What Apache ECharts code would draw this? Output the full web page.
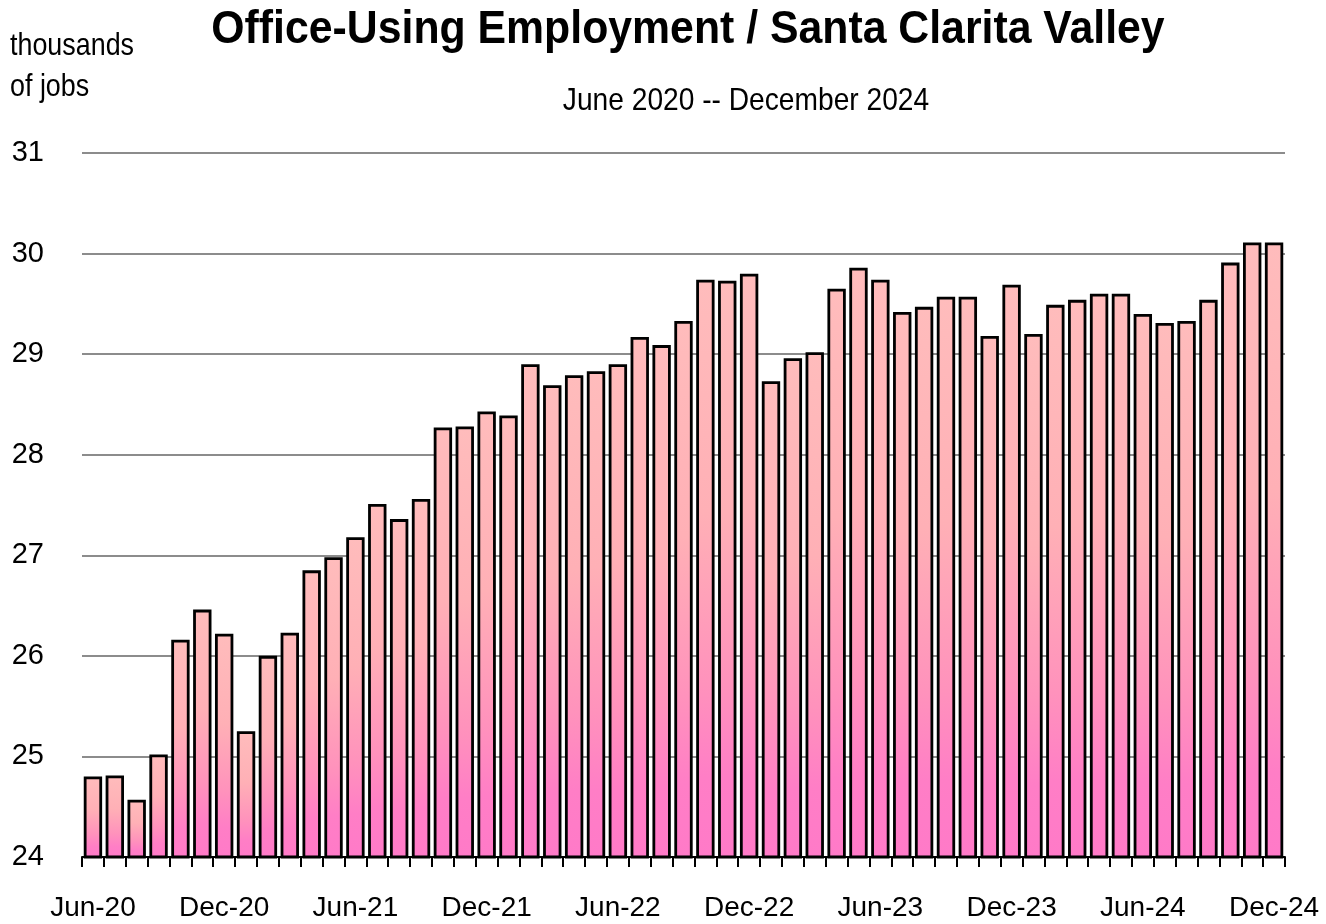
<!DOCTYPE html>
<html>
<head>
<meta charset="utf-8">
<script src="https://cdn.jsdelivr.net/npm/echarts@6/dist/echarts.min.js"></script>
<style>
html,body{margin:0;padding:0;background:#fff;}
#chart{width:1326px;height:924px;}
</style>
</head>
<body>
<div id="chart"></div>
<script>
const categories = [
  'Jun-20','Jul-20','Aug-20','Sep-20','Oct-20','Nov-20','Dec-20',
  'Jan-21','Feb-21','Mar-21','Apr-21','May-21','Jun-21','Jul-21','Aug-21','Sep-21','Oct-21','Nov-21','Dec-21',
  'Jan-22','Feb-22','Mar-22','Apr-22','May-22','Jun-22','Jul-22','Aug-22','Sep-22','Oct-22','Nov-22','Dec-22',
  'Jan-23','Feb-23','Mar-23','Apr-23','May-23','Jun-23','Jul-23','Aug-23','Sep-23','Oct-23','Nov-23','Dec-23',
  'Jan-24','Feb-24','Mar-24','Apr-24','May-24','Jun-24','Jul-24','Aug-24','Sep-24','Oct-24','Nov-24','Dec-24'
];
const jobs = [
  24.80, 24.81, 24.57, 25.02, 26.16, 26.46, 26.22,
  25.25, 26.00, 26.23, 26.85, 26.98, 27.18, 27.51, 27.36, 27.56, 28.27, 28.28, 28.43,
  28.39, 28.90, 28.69, 28.79, 28.83, 28.90, 29.17, 29.09, 29.33, 29.74, 29.73, 29.80,
  28.73, 28.96, 29.02, 29.65, 29.86, 29.74, 29.42, 29.47, 29.57, 29.57, 29.18, 29.69,
  29.20, 29.49, 29.54, 29.60, 29.60, 29.40, 29.31, 29.33, 29.54, 29.91, 30.11, 30.11
];
const yMin = 24, yMax = 31, yStep = 1;
const titleText = 'Office-Using Employment / Santa Clarita Valley';
const subtitleText = 'June 2020 -- December 2024';
const unitLines = ['thousands', 'of jobs'];

const FONT = '"Liberation Sans", Arial, sans-serif';
const chart = echarts.init(document.getElementById('chart'));
chart.setOption({
  animation: false,
  backgroundColor: '#fff',
  graphic: [
    { type: 'text', x: 688, y: 30, scaleX: 0.93,
      style: { text: titleText, font: 'bold 46px ' + FONT, fill: '#000', textAlign: 'center', textVerticalAlign: 'middle' } },
    { type: 'text', x: 746, y: 101, scaleX: 0.88,
      style: { text: subtitleText, font: '32px ' + FONT, fill: '#000', textAlign: 'center', textVerticalAlign: 'middle' } },
    { type: 'text', x: 10, y: 46, scaleX: 0.84,
      style: { text: unitLines[0], font: '32px ' + FONT, fill: '#000', textAlign: 'left', textVerticalAlign: 'middle' } },
    { type: 'text', x: 10, y: 87, scaleX: 0.84,
      style: { text: unitLines[1], font: '32px ' + FONT, fill: '#000', textAlign: 'left', textVerticalAlign: 'middle' } }
  ],
  grid: { left: 82, right: 41, top: 153, bottom: 67, containLabel: false },
  xAxis: {
    type: 'category',
    data: categories,
    boundaryGap: true,
    axisLine: { show: true, lineStyle: { color: '#000', width: 2 } },
    axisTick: { show: true, interval: 0, alignWithLabel: false, length: 10, lineStyle: { color: '#000', width: 2 } },
    axisLabel: { interval: 5, color: '#000', fontFamily: FONT, fontSize: 28, margin: 37 },
    splitLine: { show: false }
  },
  yAxis: {
    type: 'value',
    min: yMin, max: yMax, interval: yStep,
    axisLine: { show: false },
    axisTick: { show: false },
    axisLabel: { color: '#000', fontFamily: FONT, fontSize: 29, margin: 38 },
    splitLine: { show: true, lineStyle: { color: '#8c8c8c', width: 2 } }
  },
  series: [{
    type: 'bar',
    data: jobs,
    barCategoryGap: '16%',
    itemStyle: {
      borderColor: '#000',
      borderWidth: 2.8,
      color: new echarts.graphic.LinearGradient(0, 0, 0, 1, [
        { offset: 0, color: '#ffbcbc' },
        { offset: 0.4, color: '#ffb0b6' },
        { offset: 0.7, color: '#ff92bc' },
        { offset: 0.86, color: '#ff7ec6' },
        { offset: 1, color: '#ff7ac8' }
      ])
    }
  }]
});
</script>
</body>
</html>
